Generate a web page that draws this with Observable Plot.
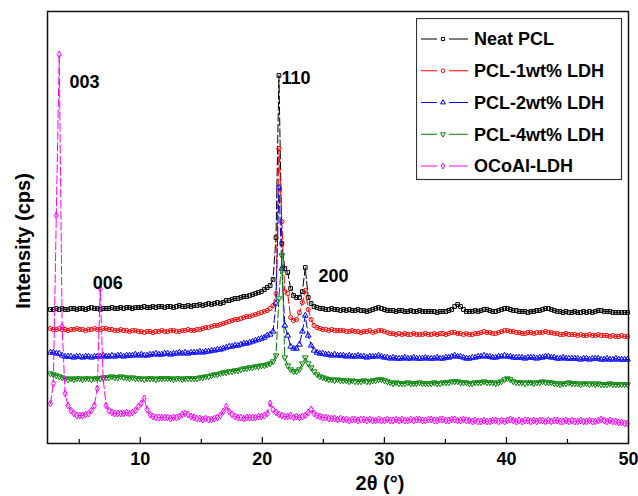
<!DOCTYPE html>
<html><head><meta charset="utf-8">
<script src="https://cdn.jsdelivr.net/npm/d3@7"></script>
<script src="https://cdn.jsdelivr.net/npm/@observablehq/plot@0.6"></script>
<style>
body{margin:0;background:#fff}
#wrap{position:relative;width:638px;height:496px;font-family:"Liberation Sans",Arial,sans-serif}
#legend{position:absolute;left:416px;top:18px}
</style>
</head><body><div id="wrap"></div>
<script>
// 2θ sampling grid (degrees)
const twoTheta = d3.range(198).map(i => +(2.64 + 0.24 * i).toFixed(2));

// Intensities (arbitrary cps units, offset curves)
const neatPCL = [
134,134,135,134,135,134,134,135,135,134,
135,135,134,135,136,135,135,134,135,135,
135,136,135,135,136,135,136,136,135,136,
136,136,137,136,136,137,136,137,137,136,
137,137,136,137,138,137,137,138,137,138,
138,139,138,139,140,139,140,141,140,141,
143,143,144,145,145,146,147,147,148,149,
150,151,152,154,156,158,164,206,368,200,
175,171,155,148,146,146,152,176,146,140,
137,136,135,135,134,134,135,134,134,133,
134,133,134,133,133,134,133,133,132,133,
134,135,136,135,134,133,133,133,132,133,
133,132,132,133,132,132,133,132,132,132,
132,132,131,132,132,132,133,134,137,139,
137,134,132,132,132,133,132,133,134,134,
133,132,132,133,134,135,135,134,133,133,
132,132,132,131,132,132,133,133,134,135,
135,134,133,132,132,131,132,131,131,132,
131,131,132,131,132,131,132,133,133,132,
132,132,131,131,131,131,131,131];

const pcl1wt = [
115,114,114,115,114,114,113,114,114,115,
114,114,113,114,114,115,114,114,115,115,
114,114,113,113,114,113,113,112,113,113,
112,112,111,112,112,111,112,112,113,112,
112,113,113,112,112,113,113,114,113,113,
114,114,115,116,116,117,118,118,119,120,
121,122,123,124,124,125,126,127,127,128,
129,130,131,132,133,135,138,150,295,222,
152,150,126,123,124,131,141,153,134,124,
118,116,115,114,114,113,114,113,113,113,
113,112,112,113,112,112,111,112,112,113,
111,112,113,113,112,111,110,110,109,110,
109,110,109,109,110,109,109,109,110,109,
109,110,109,110,110,109,110,111,111,110,
110,109,110,109,109,110,110,111,112,111,
111,110,110,111,112,113,113,112,112,111,
111,110,110,111,111,110,111,111,111,112,
111,111,110,110,109,109,110,109,109,109,
108,109,108,108,109,108,108,109,108,108,
108,107,108,107,107,108,107,107];

const pcl2wt = [
91,91,90,90,88,87,87,87,86,87,
87,86,87,87,86,87,87,87,88,87,
87,88,87,88,88,87,88,88,88,89,
88,89,88,88,89,89,90,89,89,90,
90,89,90,90,91,90,91,90,91,91,
91,92,91,92,92,93,93,94,94,95,
96,97,97,98,98,99,100,100,101,102,
103,104,105,106,108,109,112,140,256,175,
118,108,97,95,95,99,112,128,108,98,
93,91,90,90,89,89,88,89,88,88,
88,87,88,87,87,88,87,87,86,87,
87,87,88,87,86,86,85,86,85,85,
85,86,85,85,86,85,85,85,86,85,
85,85,86,85,85,86,86,87,88,87,
87,86,85,85,86,86,87,87,88,87,
87,86,86,87,87,88,87,87,86,86,
86,86,85,86,86,86,85,86,86,87,
87,86,86,85,85,86,85,85,85,85,
85,84,85,85,84,85,85,85,84,84,
85,84,84,85,84,84,84,84];

const pcl4wt = [
70,69,68,67,66,65,64,65,64,65,
65,64,65,65,64,65,65,65,66,66,
66,67,66,66,67,66,66,65,66,65,
65,65,64,65,65,65,64,65,65,65,
65,65,64,65,65,64,65,65,65,65,
65,66,66,67,67,68,69,69,70,71,
71,72,72,73,73,74,75,75,76,76,
77,77,78,78,79,80,82,88,145,188,
86,78,74,72,72,74,80,86,80,76,
72,69,67,66,65,64,64,63,64,63,
63,63,62,63,62,62,62,63,62,62,
63,63,64,64,63,62,61,60,61,60,
60,60,61,60,60,60,61,60,60,60,
60,61,60,60,61,61,61,62,62,62,
61,61,61,60,60,61,61,61,62,61,
61,61,60,61,62,64,65,64,62,61,
61,61,60,61,61,60,61,61,62,61,
61,61,60,60,59,60,60,61,60,60,
60,59,60,60,59,60,59,60,59,59,
59,60,59,59,59,59,59,59];

const ocoalLDH = [
40,60,228,389,117,50,38,33,30,28,
28,28,29,30,33,38,55,155,65,38,
33,31,30,30,30,30,31,30,31,33,
37,40,45,34,29,27,26,26,26,26,
26,25,26,26,27,29,30,29,27,26,
25,25,24,25,24,24,25,26,28,32,
37,32,29,27,26,26,25,26,26,26,
26,27,27,28,30,40,34,31,29,28,
27,27,28,26,27,26,27,28,31,34,
30,28,27,26,26,25,25,25,24,25,
24,24,23,24,24,23,24,24,23,24,
23,23,24,23,23,24,23,23,24,23,
24,23,23,24,23,24,24,23,23,24,
24,23,23,24,24,23,23,24,24,23,
23,24,23,23,22,23,22,22,23,22,
22,23,23,22,23,22,23,24,23,22,
23,22,23,23,22,23,22,23,23,22,
23,22,23,23,22,22,23,22,23,22,
22,23,22,22,23,22,22,23,24,23,
22,23,22,22,21,21,20,20];

const seriesNames = ["Neat PCL", "PCL-1wt% LDH", "PCL-2wt% LDH", "PCL-4wt% LDH", "OCoAl-LDH"];
const seriesValues = [neatPCL, pcl1wt, pcl2wt, pcl4wt, ocoalLDH];
const seriesColors = ["#000000", "#ff0000", "#0000ff", "#008000", "#ff00ff"];
const seriesSymbols = ["square", "circle", "triangle", "triangle", "diamond"];
const seriesRotate = [0, 0, 0, 180, 0];

const majorTicks = [10, 20, 30, 40, 50];
const minorTicks = [5, 15, 25, 35, 45];

// peak annotations (reflection indices)
const peakLabels = ["003", "006", "110", "200"];
const peakX = [4.2, 6.1, 21.57, 24.6];
const peakY = [361, 160, 365, 167];
const peaks = peakLabels.map((label, i) => ({label, x: peakX[i], y: peakY[i]}));

const marks = [];
seriesNames.forEach((name, s) => {
  const rows = twoTheta.map((x, i) => ({x, y: seriesValues[s][i], name}));
  marks.push(Plot.line(rows, {x: "x", y: "y", stroke: seriesColors[s], strokeWidth: 1, strokeDasharray: "8,3"}));
  marks.push(Plot.dot(rows, {x: "x", y: "y", symbol: seriesSymbols[s], rotate: seriesRotate[s], r: 2.1, stroke: seriesColors[s], fill: "none", strokeWidth: 1}));
});

const chart = Plot.plot({
  width: 638, height: 496,
  marginLeft: 47, marginRight: 10, marginTop: 11, marginBottom: 53,
  x: {domain: [2.4, 50]},
  y: {domain: [0, 432], axis: null},
  style: {fontFamily: "'Liberation Sans', Arial, sans-serif", background: "white", color: "black"},
  marks: [
    ...marks,
    Plot.text(peaks, {x: "x", y: "y", text: "label", textAnchor: "start", lineAnchor: "middle", fontSize: 18, fontWeight: "bold", fill: "black"}),
    Plot.ruleX(majorTicks, {x: d => d, y1: 0, y2: 6, stroke: "black", strokeWidth: 1.2}),
    Plot.ruleX(minorTicks, {x: d => d, y1: 0, y2: 4, stroke: "black", strokeWidth: 1.2}),
    Plot.axisX({ticks: majorTicks, tickSize: 0, tickPadding: 9, fontSize: 18, fontWeight: "bold", label: null, tickFormat: d => String(d)}),
    Plot.frame({stroke: "#111", strokeWidth: 1.5})
  ]
});

const svg = d3.select(chart);
svg.append("text")
  .attr("x", 380).attr("y", 490)
  .attr("text-anchor", "middle")
  .attr("font-size", 20).attr("font-weight", "bold")
  .attr("fill", "black")
  .text("2θ (°)");
svg.append("text")
  .attr("transform", "translate(30,241) rotate(-90)")
  .attr("text-anchor", "middle")
  .attr("font-size", 20).attr("font-weight", "bold")
  .attr("fill", "black")
  .text("Intensity (cps)");

const wrap = document.getElementById("wrap");
wrap.appendChild(chart);

// legend
const lg = d3.select(wrap).append("svg").attr("id", "legend")
  .attr("width", 207).attr("height", 163);
lg.append("rect").attr("x", 0.5).attr("y", 0.5).attr("width", 205).attr("height", 161)
  .attr("fill", "white").attr("stroke", "#333").attr("stroke-width", 1.2);
const symMap = {square: d3.symbolSquare, circle: d3.symbolCircle, triangle: d3.symbolTriangle, diamond: d3.symbolDiamond};
seriesNames.forEach((name, s) => {
  const g = lg.append("g").attr("transform", `translate(0,${21 + s * 31.75})`);
  g.append("line").attr("x1", 5).attr("x2", 21).attr("y1", 0).attr("y2", 0).attr("stroke", seriesColors[s]).attr("stroke-width", 1);
  g.append("line").attr("x1", 33).attr("x2", 52).attr("y1", 0).attr("y2", 0).attr("stroke", seriesColors[s]).attr("stroke-width", 1);
  g.append("path").attr("d", d3.symbol(symMap[seriesSymbols[s]], Math.PI * 1.8 * 1.8)())
    .attr("transform", `translate(27,0) rotate(${seriesRotate[s]})`)
    .attr("fill", "none").attr("stroke", seriesColors[s]).attr("stroke-width", 1);
  g.append("text").attr("x", 58).attr("y", 0).attr("dy", "0.35em")
    .attr("font-size", 18).attr("font-weight", "bold").attr("fill", "black")
    .attr("font-family", "'Liberation Sans', Arial, sans-serif")
    .text(name);
});
</script>
</body></html>
